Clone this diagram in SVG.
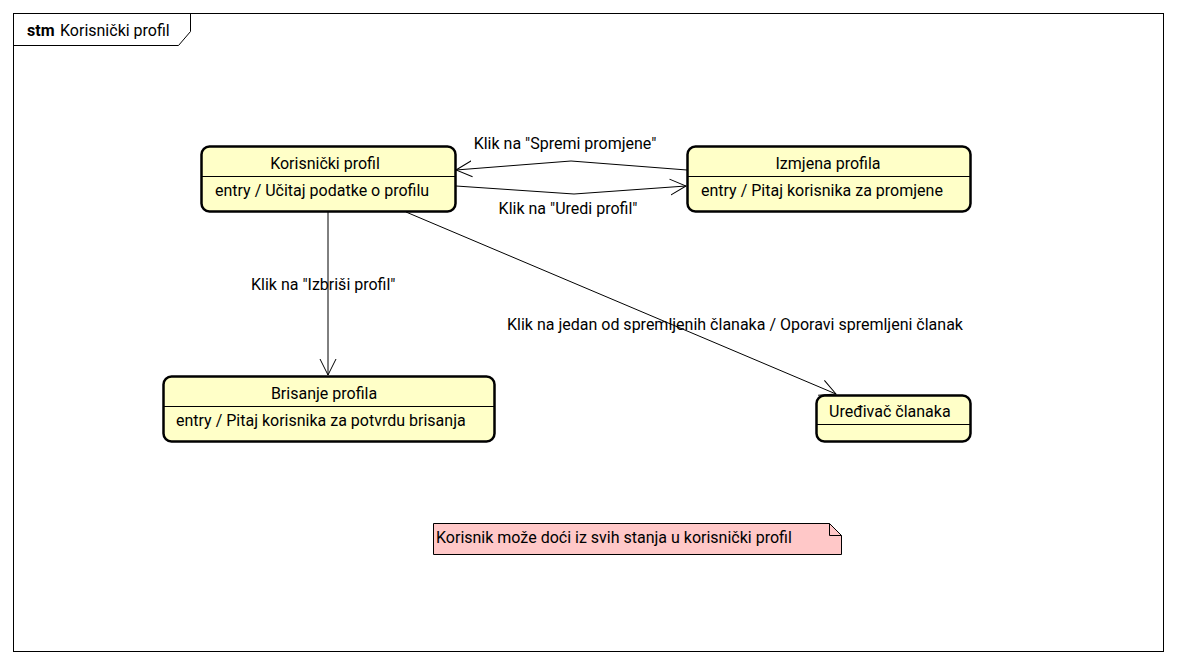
<svg xmlns="http://www.w3.org/2000/svg" width="1177" height="664" viewBox="0 0 1177 664">
<defs>
<style>
text{font-family:Roboto,"Liberation Sans",sans-serif;font-size:16px;fill:#000}
.st{fill:#ffffc8;stroke:#000;stroke-width:2.5}
.dv{stroke:#000;stroke-width:1}
.cn{fill:none;stroke:#000;stroke-width:1}
</style>
<marker id="arr" markerWidth="20" markerHeight="20" refX="16" refY="8" orient="auto" markerUnits="userSpaceOnUse" viewBox="0 0 20 16">
<path d="M0,0 L16,8 L0,16" fill="none" stroke="#000" stroke-width="1"/>
</marker>
</defs>
<rect x="0" y="0" width="1177" height="664" fill="#fff"/>
<g id="frame">
<rect x="13.5" y="13.5" width="1150" height="638" fill="none" stroke="#000" stroke-width="1"/>
<path d="M13.5,45.5 L178.5,45.5 L190.5,31.5 L190.5,13.5" fill="none" stroke="#000" stroke-width="1"/>
<text x="27" y="36" style="font-weight:bold">stm</text>
<text x="60" y="36">Korisnički profil</text>
</g>
<g id="connectors">
<path class="cn" d="M687,170 L571,161 L456,170" marker-end="url(#arr)"/>
<path class="cn" d="M456,186 L574,194 L686,186" marker-end="url(#arr)"/>
<path class="cn" d="M328,212 L328,375" marker-end="url(#arr)"/>
<path class="cn" d="M406,212 L836,394" marker-end="url(#arr)"/>
<text x="565" y="149" text-anchor="middle">Klik na "Spremi promjene"</text>
<text x="568" y="214" text-anchor="middle">Klik na "Uredi profil"</text>
<text x="251" y="290">Klik na "Izbriši profil"</text>
<text x="507" y="330">Klik na jedan od spremljenih članaka / Oporavi spremljeni članak</text>
</g>
<g id="korisnicki-profil">
<rect class="st" x="201.5" y="146.5" width="254" height="65" rx="8"/>
<line class="dv" x1="202" y1="176.5" x2="455" y2="176.5"/>
<text x="325" y="169" text-anchor="middle">Korisnički profil</text>
<text x="215" y="196">entry / Učitaj podatke o profilu</text>
</g>
<g id="izmjena-profila">
<rect class="st" x="687.5" y="146.5" width="283" height="65" rx="8"/>
<line class="dv" x1="688" y1="176.5" x2="970" y2="176.5"/>
<text x="828" y="169" text-anchor="middle">Izmjena profila</text>
<text x="701" y="196">entry / Pitaj korisnika za promjene</text>
</g>
<g id="brisanje-profila">
<rect class="st" x="163.5" y="376.5" width="331" height="65" rx="8"/>
<line class="dv" x1="164" y1="406.5" x2="494" y2="406.5"/>
<text x="324" y="399" text-anchor="middle">Brisanje profila</text>
<text x="176" y="426">entry / Pitaj korisnika za potvrdu brisanja</text>
</g>
<g id="uredjivac-clanaka">
<rect class="st" x="816.5" y="395.5" width="154" height="46" rx="8"/>
<line class="dv" x1="817" y1="424.5" x2="970" y2="424.5"/>
<text x="829" y="417">Uređivač članaka</text>
</g>
<g id="note">
<path d="M433.5,523.5 L829.5,523.5 L841.5,535.5 L841.5,554.5 L433.5,554.5 Z" fill="#ffc8c8" stroke="#000" stroke-width="1"/>
<path d="M829.5,523.5 L829.5,535.5 L841.5,535.5" fill="none" stroke="#000" stroke-width="1"/>
<text x="436" y="543">Korisnik može doći iz svih stanja u korisnički profil</text>
</g>
</svg>
